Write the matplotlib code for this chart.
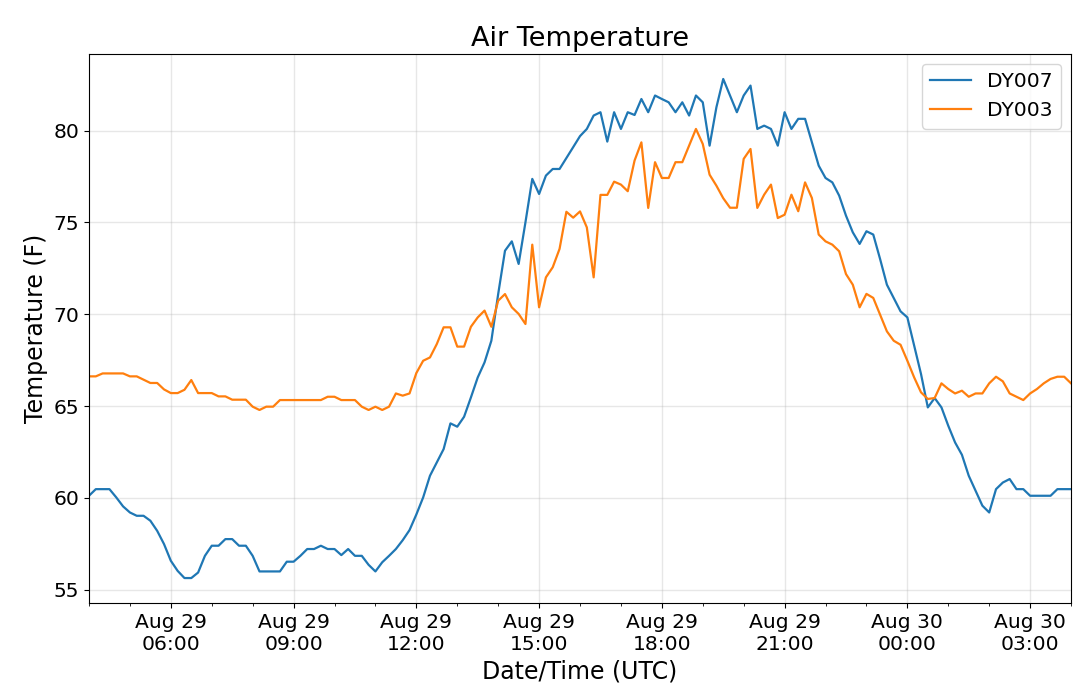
import matplotlib
matplotlib.use("Agg")
import matplotlib.pyplot as plt
import matplotlib.dates as mdates
import pandas as pd

start_time = "2019-08-29 04:00"
step = "10min"

dy007 = [
    60.12, 60.48, 60.48, 60.48, 60.03, 59.54, 59.21, 59.03, 59.03, 58.76,
    58.21, 57.49, 56.58, 56.03, 55.64, 55.64, 55.94, 56.85, 57.40, 57.40,
    57.76, 57.76, 57.40, 57.40, 56.85, 56.00, 56.00, 56.00, 56.00, 56.53,
    56.53, 56.85, 57.22, 57.22, 57.40, 57.22, 57.22, 56.89, 57.22, 56.85,
    56.85, 56.36, 56.00, 56.50, 56.85, 57.22, 57.70, 58.25, 59.10, 60.03,
    61.21, 61.93, 62.66, 64.06, 63.88, 64.42, 65.47, 66.56, 67.38, 68.56,
    71.10, 73.46, 73.97, 72.74, 75.01, 77.37, 76.55, 77.55, 77.91, 77.91,
    78.50, 79.10, 79.70, 80.09, 80.82, 81.00, 79.40, 81.00, 80.09, 81.00,
    80.85, 81.72, 81.00, 81.91, 81.72, 81.54, 81.00, 81.54, 80.82, 81.91,
    81.54, 79.18, 81.27, 82.81, 81.91, 81.00, 81.91, 82.45, 80.09, 80.27,
    80.09, 79.18, 81.00, 80.09, 80.64, 80.64, 79.36, 78.09, 77.42, 77.18,
    76.46, 75.37, 74.46, 73.83, 74.52, 74.34, 73.01, 71.61, 70.89, 70.16,
    69.83, 68.29, 66.75, 64.93, 65.44, 64.93, 63.93, 63.02, 62.35, 61.21,
    60.39, 59.58, 59.21, 60.48, 60.84, 61.03, 60.48, 60.48, 60.12, 60.12,
    60.12, 60.12, 60.48, 60.48, 60.48,
]

dy003 = [
    66.62, 66.62, 66.78, 66.78, 66.78, 66.78, 66.62, 66.62, 66.44, 66.26,
    66.26, 65.91, 65.71, 65.71, 65.89, 66.42, 65.71, 65.71, 65.71, 65.53,
    65.53, 65.35, 65.35, 65.35, 64.97, 64.79, 64.97, 64.97, 65.33, 65.33,
    65.33, 65.33, 65.33, 65.33, 65.33, 65.51, 65.51, 65.33, 65.33, 65.33,
    64.97, 64.79, 64.97, 64.79, 64.97, 65.69, 65.57, 65.69, 66.80, 67.47,
    67.65, 68.38, 69.29, 69.29, 68.24, 68.24, 69.32, 69.83, 70.20, 69.32,
    70.74, 71.10, 70.38, 70.02, 69.47, 73.79, 70.38, 72.01, 72.56, 73.56,
    75.58, 75.26, 75.60, 74.73, 72.01, 76.50, 76.50, 77.22, 77.06, 76.70,
    78.37, 79.36, 75.79, 78.28, 77.42, 77.42, 78.28, 78.28, 79.18, 80.09,
    79.27, 77.60, 77.00, 76.32, 75.80, 75.80, 78.46, 79.00, 75.79, 76.51,
    77.06, 75.24, 75.42, 76.51, 75.61, 77.18, 76.33, 74.34, 73.97, 73.79,
    73.43, 72.19, 71.61, 70.38, 71.11, 70.89, 69.98, 69.07, 68.56, 68.34,
    67.47, 66.56, 65.75, 65.39, 65.44, 66.24, 65.93, 65.69, 65.84, 65.51,
    65.69, 65.69, 66.24, 66.60, 66.35, 65.69, 65.51, 65.33, 65.69, 65.93,
    66.24, 66.48, 66.60, 66.60, 66.24,
]

series_names = ["DY007", "DY003"]
times = pd.date_range(start_time, periods=len(dy007), freq=step)

fig = plt.figure(figsize=(10.8, 6.98), dpi=100)
ax = fig.add_axes([0.0824, 0.1361, 0.9093, 0.7865])

ax.plot(times, dy007, color="#1f77b4", lw=1.6, label=series_names[0])
ax.plot(times, dy003, color="#ff7f0e", lw=1.6, label=series_names[1])

ax.set_xlim(times[0], times[-1])
ax.xaxis.set_major_locator(mdates.HourLocator(byhour=[0, 3, 6, 9, 12, 15, 18, 21]))
ax.xaxis.set_minor_locator(mdates.HourLocator())
ax.xaxis.set_major_formatter(mdates.DateFormatter("%b %d\n%H:%M"))
ax.set_yticks([55, 60, 65, 70, 75, 80])

ax.grid(True, which="major", color="#b0b0b0", alpha=0.3, lw=1.0)
ax.tick_params(axis="both", which="major", labelsize=14.6)

ax.set_title("Air Temperature", fontsize=19.5)
ax.set_xlabel("Date/Time (UTC)", fontsize=17)
ax.set_ylabel("Temperature (F)", fontsize=17)
ax.legend(loc="upper right", fontsize=14.6)

fig.savefig("out.png", dpi=100)
